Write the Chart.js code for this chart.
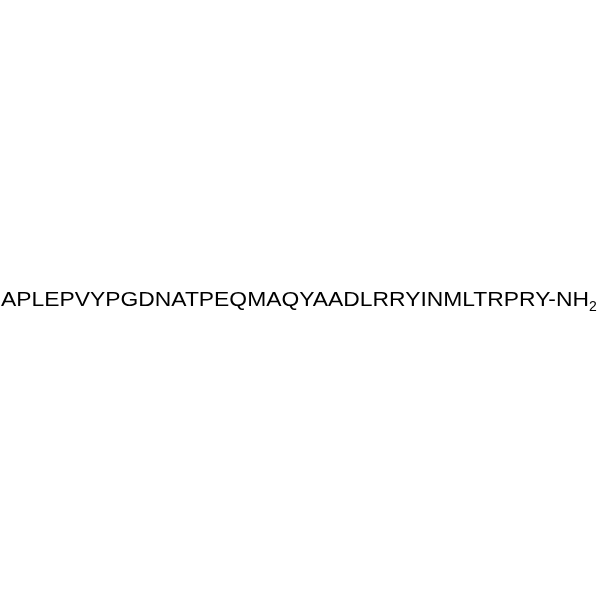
<!DOCTYPE html>
<html>
<head>
<meta charset="utf-8">
<script src="https://cdn.jsdelivr.net/npm/chart.js@4"></script>
<style>
  html, body { margin: 0; padding: 0; background: #fff; }
  #wrap { width: 600px; height: 600px; }
</style>
</head>
<body>
<div id="wrap"><canvas id="myChart"></canvas></div>
<script>
// peptide sequence, one residue per entry
var residues = ["A","P","L","E","P","V","Y","P","G","D","N","A","T","P","E","Q","M","A",
                "Q","Y","A","A","D","L","R","R","Y","I","N","M","L","T","R","P","R","Y"];
var cTerminus = "-NH";
var cTerminusSub = "2";

var sequenceText = {
    id: 'sequenceText',
    afterDraw: function (chart) {
        var ctx = chart.ctx;
        var main = residues.join("") + cTerminus;
        var left = 1, right = 589, baseline = 306;
        ctx.save();
        ctx.fillStyle = "#000";
        ctx.textBaseline = "alphabetic";
        ctx.font = "20px 'Liberation Sans', Arial, sans-serif";
        var w = ctx.measureText(main).width;
        var sx = (right - left) / w;
        ctx.save();
        ctx.translate(left, baseline);
        ctx.scale(sx, 1);
        ctx.fillText(main, 0, 0);
        ctx.restore();
        ctx.font = "14px 'Liberation Sans', Arial, sans-serif";
        ctx.fillText(cTerminusSub, 589, 311);
        ctx.restore();
    }
};

var ctx = document.getElementById('myChart').getContext('2d');
var myChart = new Chart(ctx, {
    type: 'bar',
    data: {
        labels: residues,
        datasets: [{ label: "Residuos", data: [], backgroundColor: "#000" }]
    },
    options: {
        responsive: true,
        maintainAspectRatio: false,
        animation: false,
        plugins: {
            legend: { display: false },
            tooltip: { enabled: false }
        },
        scales: {
            x: { display: false },
            y: { display: false }
        }
    },
    plugins: [sequenceText]
});
</script>
</body>
</html>
